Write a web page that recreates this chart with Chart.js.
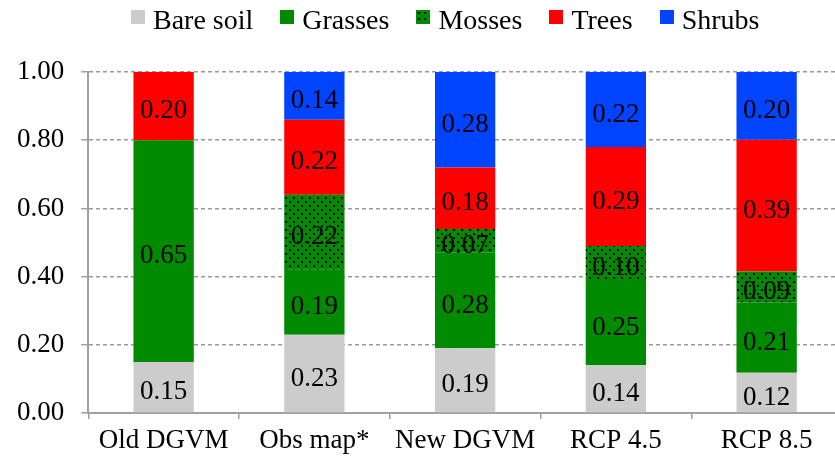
<!DOCTYPE html>
<html>
<head>
<meta charset="utf-8">
<script src="https://cdn.jsdelivr.net/npm/chart.js@4/dist/chart.umd.min.js"></script>
<style>
  html, body { margin: 0; padding: 0; background: #fff; overflow: hidden; }
  #wrap { width: 835px; height: 463px; overflow: hidden; position: relative; }
  #box { width: 842px; height: 463px; position: absolute; left: 0; top: 0; }
  #legend { position: absolute; left: 131px; top: 3px; height: 34px; display: flex; align-items: center;
            font-family: 'Liberation Serif', 'Times New Roman', serif; font-size: 28px; color: #000; white-space: nowrap; }
  #legend .item { display: flex; align-items: center; margin-right: 27px; }
  #legend .sw { width: 14px; height: 14px; margin-right: 8px; transform: translateY(-3px); }
  #legend .moss { background: radial-gradient(circle, #000 1px, transparent 1.3px) 0 0 / 6px 6px, #008a00; }
</style>
</head>
<body>
<div id="wrap">
  <div id="box"><canvas id="chart"></canvas></div>
  <div id="legend"></div>
</div>
<script>
const categories = ['Old DGVM', 'Obs map*', 'New DGVM', 'RCP 4.5', 'RCP 8.5'];
const seriesNames = ['Bare soil', 'Grasses', 'Mosses', 'Trees', 'Shrubs'];
const bareSoil = [0.15, 0.23, 0.19, 0.14, 0.118];
const grasses  = [0.65, 0.19, 0.28, 0.25, 0.206];
const mosses   = [0,    0.22, 0.07, 0.10, 0.091];
const trees    = [0.20, 0.22, 0.18, 0.29, 0.386];
const shrubs   = [0,    0.14, 0.28, 0.22, 0.199];
const yTicks   = [0, 0.2, 0.4, 0.6, 0.8, 1.0];

const FONT = "'Liberation Serif', 'Times New Roman', serif";
const canvas = document.getElementById('chart');
const ctx = canvas.getContext('2d');

// green fill with black dots for mosses
const makeMossPattern = () => {
  const c = document.createElement('canvas');
  c.width = 8; c.height = 8;
  const p = c.getContext('2d');
  p.fillStyle = '#008a00';
  p.fillRect(0, 0, 8, 8);
  p.fillStyle = '#000';
  p.fillRect(1, 1, 2, 2);
  p.fillRect(5, 5, 2, 2);
  return ctx.createPattern(c, 'repeat');
};

const colors = ['#cccccc', '#008a00', makeMossPattern(), '#ff0000', '#0044ff'];
const legendCss = ['#cccccc', '#008a00', null, '#ff0000', '#0044ff'];

// legend as html, same order as datasets
document.getElementById('legend').innerHTML = seriesNames.map((n, i) => `
  <div class="item"><span class="sw ${legendCss[i] ? '' : 'moss'}" style="${legendCss[i] ? 'background:' + legendCss[i] : ''}"></span>${n}</div>`).join('');

const segLabels = {
  id: 'segLabels',
  afterDatasetsDraw(chart) {
    const c = chart.ctx;
    c.save();
    c.font = '27px ' + FONT;
    c.fillStyle = '#000';
    c.textAlign = 'center';
    c.textBaseline = 'middle';
    chart.data.datasets.forEach((ds, i) => {
      chart.getDatasetMeta(i).data.forEach((el, j) => {
        const v = ds.data[j];
        if (!v) return;
        c.fillText(v.toFixed(2), el.x, (el.y + el.base) / 2 + 5);
      });
    });
    c.restore();
  }
};

const seriesData = [bareSoil, grasses, mosses, trees, shrubs];

new Chart(canvas, {
  type: 'bar',
  data: {
    labels: categories,
    datasets: seriesNames.map((n, i) => ({
      label: n, data: seriesData[i], backgroundColor: colors[i], borderWidth: 0,
      barPercentage: 0.4, categoryPercentage: 1
    }))
  },
  options: {
    responsive: true,
    maintainAspectRatio: false,
    animation: false,
    layout: { padding: { top: 72, right: 0, bottom: 0, left: 0 } },
    plugins: {
      legend: { display: false },
      tooltip: { enabled: false }
    },
    scales: {
      x: {
        stacked: true,
        grid: { display: true, drawOnChartArea: false, offset: true, tickLength: 6, color: '#a0a0a0', lineWidth: 1.5 },
        border: { display: true, color: '#a0a0a0', width: 2 },
        ticks: { color: '#000', padding: 9, font: { family: FONT, size: 27, lineHeight: 0.96 }, maxRotation: 0 }
      },
      y: {
        stacked: true,
        min: 0, max: 1,
        afterBuildTicks: (axis) => { axis.ticks = yTicks.map(v => ({ value: v })); },
        grid: { color: '#999999', lineWidth: 1.5, tickLength: 7, tickColor: '#a0a0a0' },
        border: { display: true, color: '#a0a0a0', width: 2, dash: [4, 3] },
        ticks: { color: '#000', padding: 17, font: { family: FONT, size: 27 }, callback: v => Number(v).toFixed(2) }
      }
    }
  },
  plugins: [segLabels]
});
</script>
</body>
</html>
